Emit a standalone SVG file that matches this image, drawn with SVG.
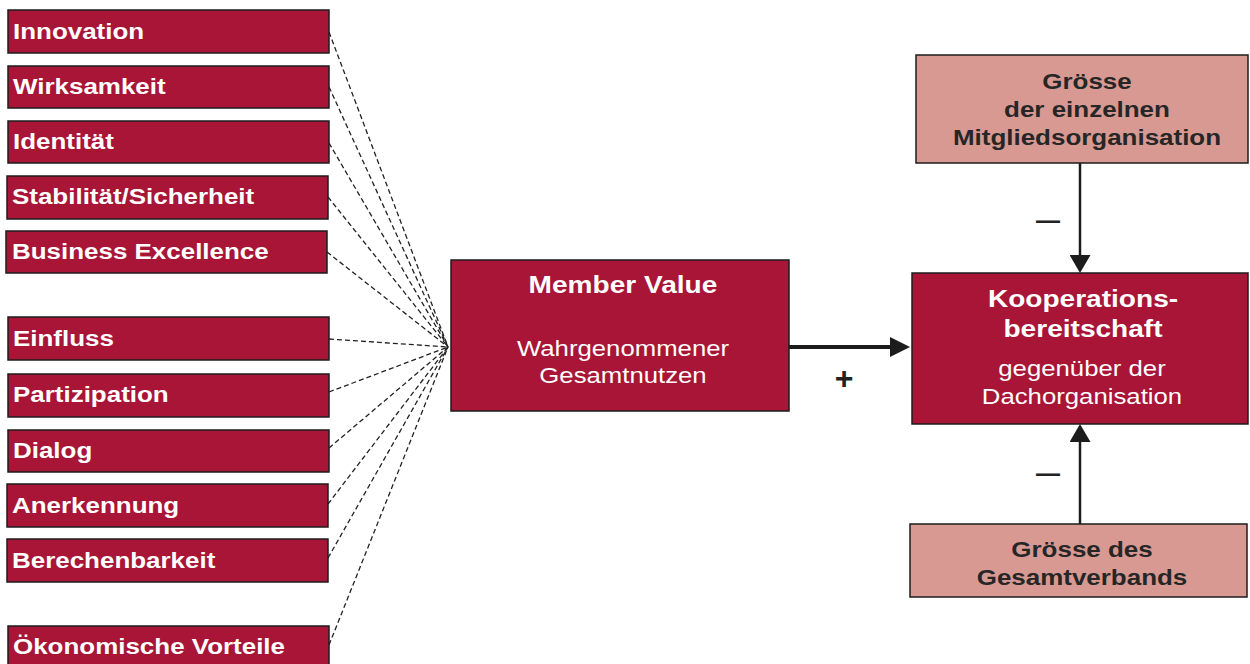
<svg xmlns="http://www.w3.org/2000/svg" width="1250" height="664" viewBox="0 0 1250 664">
<style>
.red{fill:#A81537;stroke:#1c1c1c;stroke-width:1.5}
.pink{fill:#D89993;stroke:#1c1c1c;stroke-width:1.5}
text{font-family:"Liberation Sans",Arial,sans-serif}
.lbl{font-size:22px;font-weight:bold;fill:#fff}
.ttl{font-size:24px;font-weight:bold;fill:#fff;text-anchor:middle}
.sub{font-size:22px;fill:#fff;text-anchor:middle}
.sub2{font-size:22px;fill:#fff;text-anchor:middle}
.dk{font-size:22px;font-weight:bold;fill:#262626;text-anchor:middle}
.sign{font-family:"Liberation Sans",Arial,sans-serif;font-weight:bold;fill:#222;text-anchor:middle}
.dash{stroke:#222;stroke-width:1.3;stroke-dasharray:5 3;fill:none}
</style>
<defs>
<marker id="ahH" markerUnits="userSpaceOnUse" markerWidth="20" markerHeight="20" viewBox="0 0 20 20" refX="0" refY="10" orient="auto"><path d="M0,0 L20,10 L0,20 z" fill="#1c1c1c"/></marker>
<marker id="ahV" markerUnits="userSpaceOnUse" markerWidth="18" markerHeight="21" viewBox="0 0 18 21" refX="0" refY="10.5" orient="auto"><path d="M0,0 L18,10.5 L0,21 z" fill="#1c1c1c"/></marker>
</defs>

<g id="connectors">
<path class="dash" d="M329,32 L448,347"/>
<path class="dash" d="M329,87 L448,347"/>
<path class="dash" d="M329,143 L448,347"/>
<path class="dash" d="M328,197 L448,347"/>
<path class="dash" d="M327,252 L448,347"/>
<path class="dash" d="M329,339 L448,347"/>
<path class="dash" d="M329,392 L448,347"/>
<path class="dash" d="M329,448 L448,347"/>
<path class="dash" d="M328,504 L448,347"/>
<path class="dash" d="M328,558 L448,347"/>
<path class="dash" d="M329,645 L448,347"/>
<line x1="789" y1="347" x2="890" y2="347" stroke="#1c1c1c" stroke-width="4" marker-end="url(#ahH)"/>
<line x1="1080" y1="163" x2="1080" y2="255" stroke="#1c1c1c" stroke-width="2.5" marker-end="url(#ahV)"/>
<line x1="1080" y1="524" x2="1080" y2="442" stroke="#1c1c1c" stroke-width="2.5" marker-end="url(#ahV)"/>
<text class="sign" x="844" y="389" font-size="32">+</text>
<text class="sign" x="1048" y="228" font-size="24">—</text>
<text class="sign" x="1048" y="481" font-size="24">—</text>
</g>

<g id="n-innovation"><rect class="red" x="8" y="10" width="321" height="43"/><text class="lbl" transform="translate(13,39) scale(1.18 1)">Innovation</text></g>
<g id="n-wirksamkeit"><rect class="red" x="8" y="66" width="321" height="42"/><text class="lbl" transform="translate(13,94) scale(1.18 1)">Wirksamkeit</text></g>
<g id="n-identitaet"><rect class="red" x="8" y="121" width="321" height="42"/><text class="lbl" transform="translate(13,149) scale(1.18 1)">Identität</text></g>
<g id="n-stabilitaet"><rect class="red" x="7" y="176" width="321" height="43"/><text class="lbl" transform="translate(12,204) scale(1.18 1)">Stabilität/Sicherheit</text></g>
<g id="n-business"><rect class="red" x="6" y="231" width="321" height="42"/><text class="lbl" transform="translate(12,259) scale(1.18 1)">Business Excellence</text></g>
<g id="n-einfluss"><rect class="red" x="8" y="317" width="321" height="43"/><text class="lbl" transform="translate(13,346) scale(1.18 1)">Einfluss</text></g>
<g id="n-partizipation"><rect class="red" x="8" y="374" width="321" height="43"/><text class="lbl" transform="translate(13,402) scale(1.18 1)">Partizipation</text></g>
<g id="n-dialog"><rect class="red" x="8" y="430" width="321" height="42"/><text class="lbl" transform="translate(13,458) scale(1.18 1)">Dialog</text></g>
<g id="n-anerkennung"><rect class="red" x="7" y="484" width="321" height="43"/><text class="lbl" transform="translate(12,513) scale(1.18 1)">Anerkennung</text></g>
<g id="n-berechenbarkeit"><rect class="red" x="7" y="539" width="321" height="43"/><text class="lbl" transform="translate(12,568) scale(1.18 1)">Berechenbarkeit</text></g>
<g id="n-oekonomisch"><rect class="red" x="8" y="626" width="321" height="44"/><text class="lbl" transform="translate(13,654) scale(1.18 1)">Ökonomische Vorteile</text></g>

<g id="n-membervalue"><rect class="red" x="451" y="260" width="338" height="151"/>
<text class="ttl" transform="translate(623,293) scale(1.17 1)">Member Value</text>
<text class="sub" transform="translate(623,356) scale(1.17 1)">Wahrgenommener</text>
<text class="sub" transform="translate(623,383) scale(1.17 1)">Gesamtnutzen</text>
</g>

<g id="n-kooperation"><rect class="red" x="912" y="273" width="336" height="151"/>
<text class="ttl" transform="translate(1083,307) scale(1.17 1)">Kooperations-</text>
<text class="ttl" transform="translate(1083,337) scale(1.17 1)">bereitschaft</text>
<text class="sub2" transform="translate(1082,376) scale(1.17 1)">gegenüber der</text>
<text class="sub2" transform="translate(1082,404) scale(1.17 1)">Dachorganisation</text>
</g>

<g id="n-groesse-mitglied"><rect class="pink" x="916" y="55" width="332" height="108"/>
<text class="dk" transform="translate(1087,89) scale(1.18 1)">Grösse</text>
<text class="dk" transform="translate(1087,117) scale(1.18 1)">der einzelnen</text>
<text class="dk" transform="translate(1087,145) scale(1.18 1)">Mitgliedsorganisation</text>
</g>

<g id="n-groesse-verband"><rect class="pink" x="910" y="524" width="337" height="73"/>
<text class="dk" transform="translate(1082,557) scale(1.18 1)">Grösse des</text>
<text class="dk" transform="translate(1082,585) scale(1.18 1)">Gesamtverbands</text>
</g>
</svg>
